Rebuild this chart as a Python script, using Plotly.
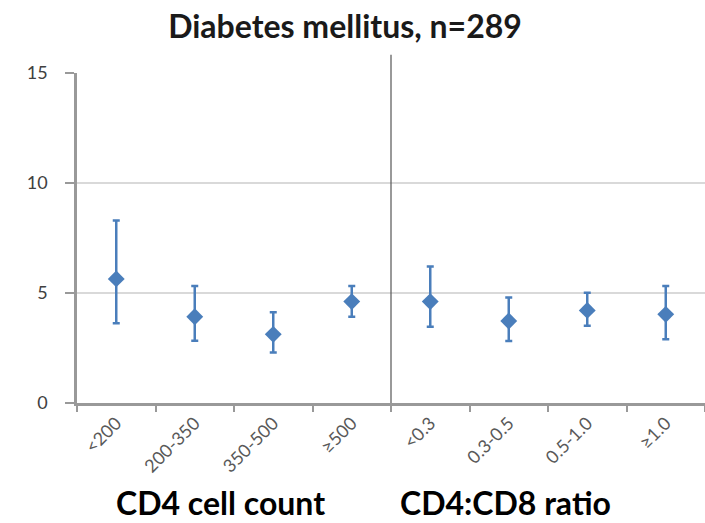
import plotly.graph_objects as go

# Categories: CD4 cell count groups, then CD4:CD8 ratio groups
categories = ["<200", "200-350", "350-500", "≥500", "<0.3", "0.3-0.5", "0.5-1.0", "≥1.0"]
estimate = [5.64, 3.92, 3.12, 4.61, 4.61, 3.73, 4.21, 4.03]
ci_upper = [8.29, 5.32, 4.12, 5.32, 6.20, 4.80, 5.01, 5.32]
ci_lower = [3.63, 2.83, 2.30, 3.92, 3.47, 2.82, 3.51, 2.90]

err_plus = [u - e for u, e in zip(ci_upper, estimate)]
err_minus = [e - l for e, l in zip(estimate, ci_lower)]

blue = "#4a7ebb"
font_family = "Lato, Open Sans, sans-serif"

fig = go.Figure()
fig.add_trace(go.Scatter(
    x=categories,
    y=estimate,
    mode="markers",
    marker=dict(symbol="diamond", size=13, color=blue),
    error_y=dict(type="data", symmetric=False, array=err_plus, arrayminus=err_minus,
                 color=blue, thickness=2.5, width=3.5),
    showlegend=False,
    cliponaxis=False,
))

# Divider between the two groupings
fig.add_shape(type="line", xref="x", yref="paper", x0=3.5, x1=3.5, y0=0, y1=1.055,
              line=dict(color="#555555", width=1.2))

fig.update_layout(
    width=705, height=523,
    margin=dict(l=77, r=0, t=73, b=120),
    paper_bgcolor="white", plot_bgcolor="white",
    title=dict(text="<b>Diabetes mellitus, n=289</b>", x=(345 - 77) / 628, xref="paper",
               xanchor="center", y=0.948, yanchor="middle",
               font=dict(family=font_family, size=32, color="#1a1a1a")),
    xaxis=dict(type="category", range=[-0.5, 7.5], tickson="boundaries",
               ticks="outside", ticklen=6, tickwidth=2, tickcolor="#999999",
               showline=True, linecolor="#999999", linewidth=2.5,
               showgrid=False, tickangle=-45,
               tickfont=dict(family=font_family, size=18, color="#595959")),
    yaxis=dict(range=[0, 15], tickvals=[0, 5, 10, 15], ticks="outside", ticklen=9,
               tickwidth=2, tickcolor="#999999", ticklabelstandoff=14,
               showline=True, linecolor="#999999", linewidth=2.5,
               showgrid=True, gridcolor="#d9d9d9", gridwidth=1.5, zeroline=False,
               tickfont=dict(family=font_family, size=18, color="#404040")),
    font=dict(family=font_family),
)

# Group labels under the x axis
fig.add_annotation(text="<b>CD4 cell count</b>", xref="paper", yref="paper",
                   x=(220 - 77) / 628, y=-0.30, xanchor="center", yanchor="middle",
                   showarrow=False, font=dict(family=font_family, size=32, color="black"))
fig.add_annotation(text="<b>CD4:CD8 ratio</b>", xref="paper", yref="paper",
                   x=(505 - 77) / 628, y=-0.30, xanchor="center", yanchor="middle",
                   showarrow=False, font=dict(family=font_family, size=32, color="black"))

fig.write_html("out.html")
